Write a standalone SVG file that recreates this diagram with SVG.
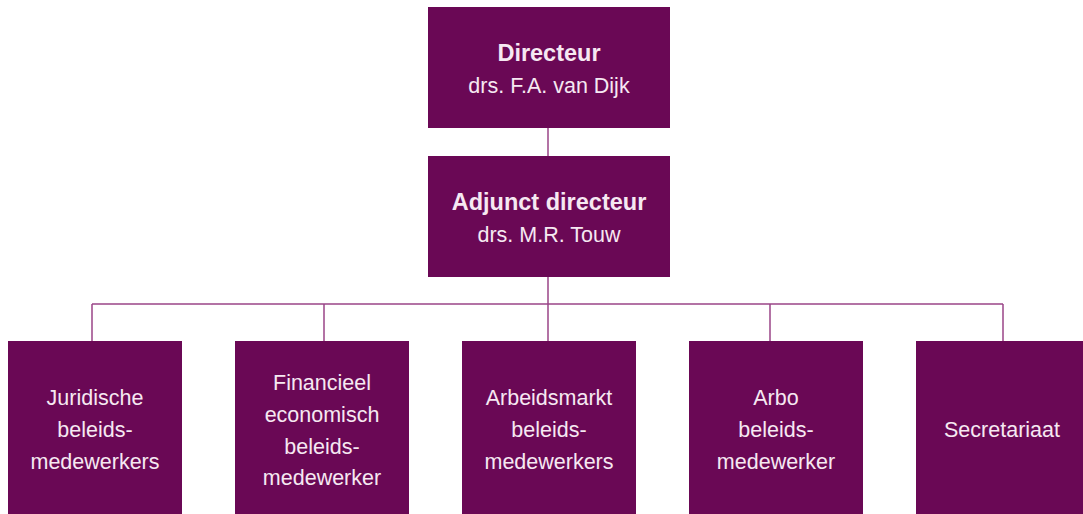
<svg xmlns="http://www.w3.org/2000/svg" width="1083" height="514" viewBox="0 0 1083 514">
<style>
.box{fill:#6A0855}
.t{font-family:"Liberation Sans",Arial,sans-serif;font-size:21.5px;fill:#F6E8F2;text-anchor:middle}
.b{font-weight:bold;font-size:23.5px}
.c{fill:none;stroke:#9A4688;stroke-width:1.5}
</style>
<rect width="1083" height="514" fill="#ffffff"/>
<g id="connectors">
<path class="c" d="M548 127V156M548 277V304M92 304H1003M92 304V341M324 304V341M548 304V341M770 304V341M1003 304V341"/>
</g>
<g id="directeur">
<rect class="box" x="428" y="7" width="242" height="121"/>
<text class="t b" x="549" y="61">Directeur</text>
<text class="t" x="549" y="93">drs. F.A. van Dijk</text>
</g>
<g id="adjunct">
<rect class="box" x="428" y="156" width="242" height="121"/>
<text class="t b" x="549" y="210">Adjunct directeur</text>
<text class="t" x="549" y="242">drs. M.R. Touw</text>
</g>
<g id="juridische">
<rect class="box" x="8" y="341" width="174" height="180"/>
<text class="t" x="95" y="405">Juridische</text>
<text class="t" x="95" y="437">beleids-</text>
<text class="t" x="95" y="469">medewerkers</text>
</g>
<g id="financieel">
<rect class="box" x="235" y="341" width="174" height="180"/>
<text class="t" x="322" y="390">Financieel</text>
<text class="t" x="322" y="422">economisch</text>
<text class="t" x="322" y="454">beleids-</text>
<text class="t" x="322" y="485">medewerker</text>
</g>
<g id="arbeidsmarkt">
<rect class="box" x="462" y="341" width="174" height="180"/>
<text class="t" x="549" y="405">Arbeidsmarkt</text>
<text class="t" x="549" y="437">beleids-</text>
<text class="t" x="549" y="469">medewerkers</text>
</g>
<g id="arbo">
<rect class="box" x="689" y="341" width="174" height="180"/>
<text class="t" x="776" y="405">Arbo</text>
<text class="t" x="776" y="437">beleids-</text>
<text class="t" x="776" y="469">medewerker</text>
</g>
<g id="secretariaat">
<rect class="box" x="916" y="341" width="174" height="180"/>
<text class="t" x="1002" y="437">Secretariaat</text>
</g>
</svg>
